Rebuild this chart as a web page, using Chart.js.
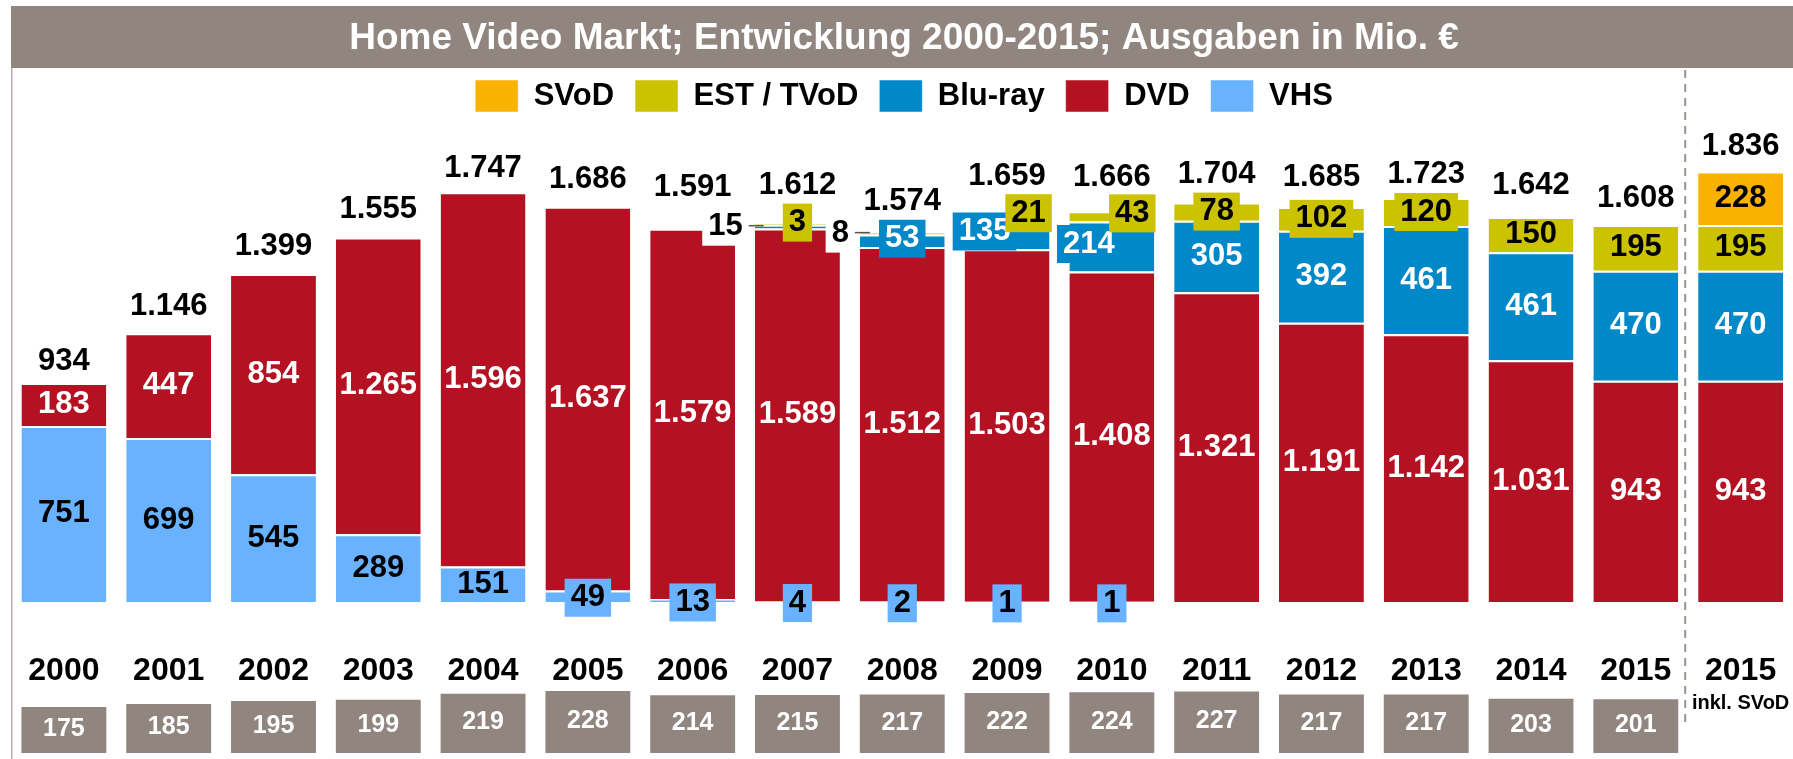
<!DOCTYPE html>
<html>
<head>
<meta charset="utf-8">
<script src="https://cdn.jsdelivr.net/npm/chart.js@4/dist/chart.umd.min.js"></script>
<style>
  html, body { margin: 0; padding: 0; background: #fff; }
  #wrap { width: 1793px; height: 759px; }
</style>
</head>
<body>
<div id="wrap"><canvas id="chart"></canvas></div>
<script>
// Values (Mio. €)
const years = ['2000', '2001', '2002', '2003', '2004', '2005', '2006', '2007', '2008',
  '2009', '2010', '2011', '2012', '2013', '2014', '2015', '2015'];
const vhs = [751, 699, 545, 289, 151, 49, 13, 4, 2, 1, 1, null, null, null, null, null, null];
const dvd = [183, 447, 854, 1265, 1596, 1637, 1579, 1589, 1512, 1503, 1408, 1321, 1191, 1142, 1031, 943, 943];
const bluray = [null, null, null, null, null, null, null, 15, 53, 135, 214, 305, 392, 461, 461, 470, 470];
const estTvod = [null, null, null, null, null, null, null, 3, 8, 21, 43, 78, 102, 120, 150, 195, 195];
const svod = [null, null, null, null, null, null, null, null, null, null, null, null, null, null, null, null, 228];
const totals = [934, 1146, 1399, 1555, 1747, 1686, 1591, 1612, 1574, 1659, 1666, 1704, 1685, 1723, 1642, 1608, 1836];
const bottomRow = [175, 185, 195, 199, 219, 228, 214, 215, 217, 222, 224, 227, 217, 217, 203, 201, null];
const lastNote = 'inkl. SVoD';

const COLORS = {
  svod: '#f9b200',
  est: '#ccc300',
  bluray: '#0088c8',
  dvd: '#b41222',
  vhs: '#69b2ff',
  grey: '#918580',
};
const FONT = "'Liberation Sans', Arial, sans-serif";

// hand placement of the crowded labels (dataset:index)
const labelTweaks = {
  '0:5': { dy: 1.5 }, '0:6': { dy: 2 }, '0:7': { dy: 1.5 },
  '0:8': { dy: 1.5 }, '0:9': { dy: 1.5 }, '0:10': { dy: 1.5 },
  '2:7': { dx: -72, fill: '#fff', color: '#000', leader: 15 },
  '2:8': { dy: -2 },
  '2:9': { dx: -22.5, dy: -2 },
  '2:10': { dx: -23, dy: -2.5, fill: COLORS.bluray },
  '3:7': { dy: -2 },
  '3:8': { dx: -62, fill: '#fff', color: '#000', leader: 15 },
  '3:9': { dx: 21.5, dy: -2 },
  '3:10': { dx: 20.5, dy: -3 },
};
// distance of the total label centre above the bar top
const totalLift = [22, 27, 27, 28, 24, 27, 41, 38.5, 31, 37, 34, 28, 29, 24, 32, 26, 25.5];

const fmt = (v) => String(v).replace(/\B(?=(\d{3})+(?!\d))/g, '.');

const segFill = [COLORS.vhs, COLORS.dvd, COLORS.bluray, COLORS.est, COLORS.svod];
const segInk = ['#000', '#fff', '#fff', '#000', '#000'];

const decorations = {
  id: 'decorations',
  beforeDraw(chart) {
    const { ctx } = chart;
    ctx.save();
    ctx.fillStyle = COLORS.grey;
    ctx.fillRect(11, 6, chart.width - 11, 62);
    ctx.strokeStyle = '#b7aea9';
    ctx.lineWidth = 1.5;
    ctx.beginPath();
    ctx.moveTo(11.75, 68);
    ctx.lineTo(11.75, chart.height);
    ctx.stroke();
    ctx.restore();
  },
  afterDatasetsDraw(chart) {
    const { ctx, chartArea } = chart;
    const xs = chart.scales.x;
    const ys = chart.scales.y;
    ctx.save();
    ctx.textAlign = 'center';
    ctx.textBaseline = 'middle';

    // dashed separator before the "inkl. SVoD" bar
    const sepX = (xs.getPixelForValue(15) + xs.getPixelForValue(16)) / 2 - 3;
    ctx.strokeStyle = '#9d938e';
    ctx.lineWidth = 2;
    ctx.setLineDash([8, 6]);
    ctx.beginPath();
    ctx.moveTo(sepX, 70);
    ctx.lineTo(sepX, 722);
    ctx.stroke();
    ctx.setLineDash([]);

    // segment labels
    ctx.font = `bold 31px ${FONT}`;
    for (let d = 0; d < 5; d++) {
      const meta = chart.getDatasetMeta(d);
      const data = chart.data.datasets[d].data;
      meta.data.forEach((bar, j) => {
        const v = data[j];
        if (v == null) return;
        const t = labelTweaks[d + ':' + j] || {};
        const segH = Math.abs(bar.base - bar.y);
        const cx = bar.x + (t.dx || 0);
        const cy = (bar.y + bar.base) / 2 + (t.dy || 0);
        const text = fmt(v);
        const w = ctx.measureText(text).width + 12;
        if (t.fill || segH < 32) {
          ctx.fillStyle = t.fill || segFill[d];
          ctx.fillRect(cx - w / 2, cy - 19, w, 38);
        }
        if (t.leader) {
          ctx.strokeStyle = '#555';
          ctx.lineWidth = 1.5;
          ctx.beginPath();
          ctx.moveTo(cx + w / 2, cy - 1);
          ctx.lineTo(cx + w / 2 + t.leader, cy - 1);
          ctx.stroke();
        }
        ctx.fillStyle = t.color || segInk[d];
        ctx.fillText(text, cx, cy);
      });
    }

    // totals
    ctx.fillStyle = '#000';
    totals.forEach((v, j) => {
      ctx.fillText(fmt(v), xs.getPixelForValue(j), ys.getPixelForValue(v) - totalLift[j]);
    });

    // year labels
    ctx.font = `bold 32px ${FONT}`;
    years.forEach((y, j) => ctx.fillText(y, xs.getPixelForValue(j), 671.5));
    ctx.font = `bold 20px ${FONT}`;
    ctx.fillText(lastNote, xs.getPixelForValue(years.length - 1), 703);

    // bottom row values
    ctx.font = `bold 25px ${FONT}`;
    ctx.fillStyle = '#fff';
    const mini = chart.getDatasetMeta(5);
    mini.data.forEach((bar, j) => {
      if (bottomRow[j] == null) return;
      ctx.fillText(fmt(bottomRow[j]), bar.x, (bar.y + chartArea.bottom) / 2 - 1);
    });
    ctx.restore();
  },
};

const segment = (label, data, color) => ({
  label,
  data,
  backgroundColor: color,
  borderColor: '#fff',
  borderWidth: { top: 2, right: 0, bottom: 0, left: 0 },
  borderSkipped: false,
  yAxisID: 'y',
});

new Chart(document.getElementById('chart'), {
  type: 'bar',
  data: {
    labels: years,
    datasets: [
      segment('VHS', vhs, COLORS.vhs),
      segment('DVD', dvd, COLORS.dvd),
      segment('Blu-ray', bluray, COLORS.bluray),
      segment('EST / TVoD', estTvod, COLORS.est),
      segment('SVoD', svod, COLORS.svod),
      {
        label: 'bottom',
        data: bottomRow,
        backgroundColor: COLORS.grey,
        borderWidth: 0,
        yAxisID: 'y2',
      },
    ],
  },
  options: {
    responsive: true,
    maintainAspectRatio: false,
    animation: false,
    events: [],
    layout: { padding: { left: 11.5, right: -3.5, top: 6, bottom: 6 } },
    datasets: { bar: { barPercentage: 0.81, categoryPercentage: 1 } },
    plugins: {
      title: {
        display: true,
        text: 'Home Video Markt; Entwicklung 2000-2015; Ausgaben in Mio. €',
        color: '#fff',
        font: { family: FONT, size: 37, weight: 'bold', lineHeight: 1 },
        padding: { top: 14.5, bottom: 1.5 },
      },
      legend: {
        display: true,
        reverse: true,
        labels: {
          color: '#000',
          font: { family: FONT, size: 31, weight: 'bold' },
          boxWidth: 43,
          boxHeight: 32,
          padding: 21,
          filter: (item) => item.datasetIndex < 5,
        },
      },
      tooltip: { enabled: false },
    },
    scales: {
      x: { display: false, stacked: true, grid: { display: false } },
      y: { display: false, stacked: true, min: -644, max: 2047 },
      y2: { display: false, stacked: false, min: 23, max: 2112 },
    },
  },
  plugins: [decorations],
});
</script>
</body>
</html>
